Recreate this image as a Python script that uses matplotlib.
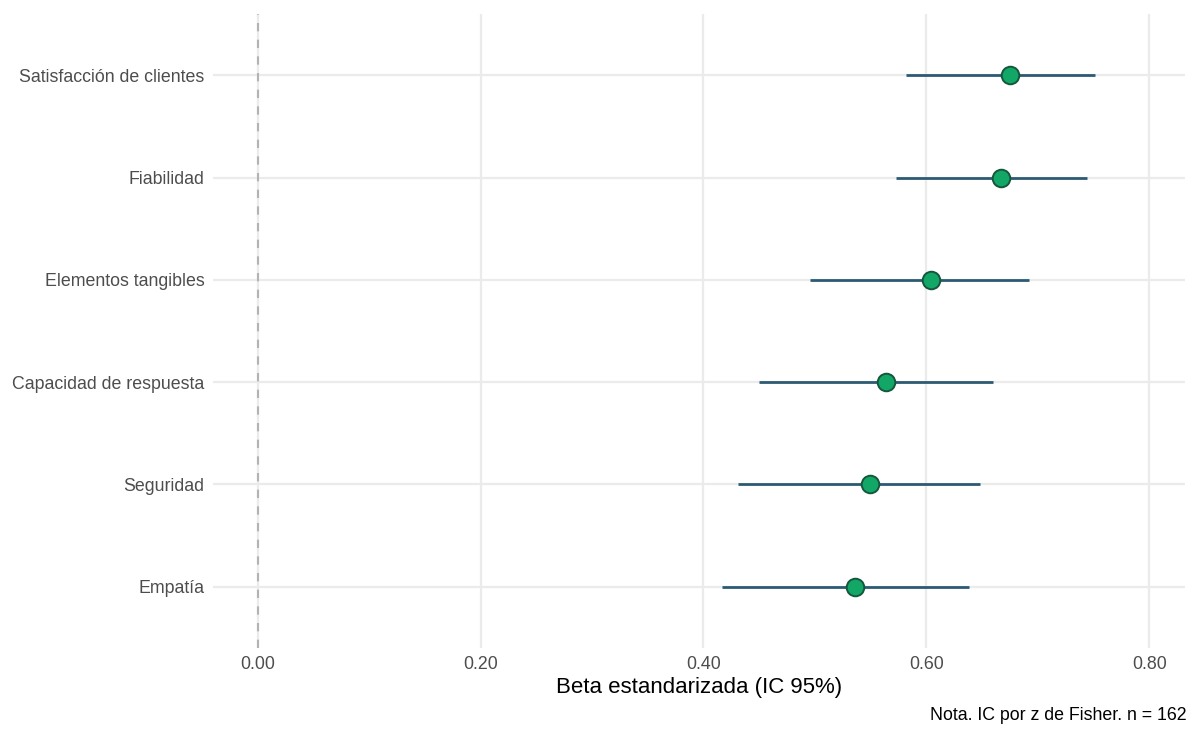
import matplotlib.pyplot as plt

# Coeficientes estandarizados con IC 95% (z de Fisher), de arriba hacia abajo
dimensiones = ["Satisfacción de clientes", "Fiabilidad", "Elementos tangibles",
               "Capacidad de respuesta", "Seguridad", "Empatía"]
beta = [0.675, 0.667, 0.604, 0.564, 0.549, 0.536]
ic_inf = [0.582, 0.573, 0.496, 0.450, 0.431, 0.417]
ic_sup = [0.751, 0.744, 0.692, 0.660, 0.648, 0.638]
ticks_x = [0.0, 0.2, 0.4, 0.6, 0.8]

plt.rcParams['font.family'] = ['Liberation Sans', 'DejaVu Sans']

fig = plt.figure(figsize=(11.89, 7.29), dpi=100)
ax = fig.add_axes([213 / 1189, 1 - 648 / 729, (1185 - 213) / 1189, (648 - 14) / 729])

n = len(dimensiones)
ypos = list(range(n, 0, -1))

for y, lo, hi in zip(ypos, ic_inf, ic_sup):
    ax.plot([lo, hi], [y, y], color='#2d5a73', lw=2, zorder=3, solid_capstyle='butt')
ax.scatter(beta, ypos, s=160, color='#12a766', edgecolor='#15573c', linewidth=1.4, zorder=4)

ax.axvline(0, color='#b3b3b3', lw=1.5, ls=(0, (4, 4)), zorder=2)

ax.set_xlim(-0.04, 0.832)
ax.set_ylim(0.4, n + 0.6)
ax.set_xticks(ticks_x)
ax.set_xticklabels([f"{t:.2f}" for t in ticks_x])
ax.set_yticks(ypos)
ax.set_yticklabels(dimensiones)

ax.grid(True, color='#ebebeb', lw=1.6, zorder=0)
ax.set_axisbelow(True)
for s in ax.spines.values():
    s.set_visible(False)
ax.tick_params(length=0, labelsize=12.8, labelcolor='#4d4d4d', pad=6)

ax.set_xlabel("Beta estandarizada (IC 95%)", fontsize=16, color='black', labelpad=3)
fig.text(1187 / 1189, 1 - 716 / 729, "Nota. IC por z de Fisher. n = 162",
         ha='right', va='center', fontsize=12.8, color='black')

fig.savefig("out.png", dpi=100)
